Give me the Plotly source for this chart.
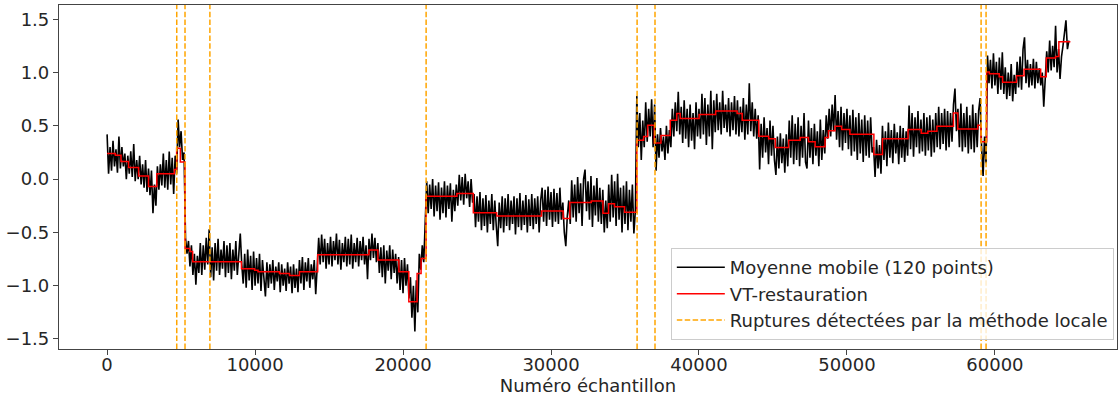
import plotly.graph_objects as go

# ---------------- data ----------------
black_step = 100
# Moyenne mobile (120 points): values read every 100 samples, per segment (start sample, values)
black_seg_a_start = 0
black_seg_a = [0.42, 0.05, 0.30, 0.08, 0.36, 0.12, 0.28, 0.06, 0.40, 0.10,
               0.30, 0.12, 0.24, 0.00, 0.22, 0.05, 0.26, 0.02, 0.33, -0.02,
               0.18, 0.00, 0.22, -0.05, 0.14, -0.08, 0.18, -0.12, 0.10, -0.15,
               0.08, -0.32, -0.05, -0.25, 0.12, -0.10, 0.14, -0.06, 0.24, -0.08,
               0.18, -0.10, 0.26, -0.05, 0.20, -0.14, 0.22, 0.05, 0.56, 0.30,
               0.45, 0.18, 0.25]
black_seg_b_start = 5300
black_seg_b = [-0.55, -0.70, -0.58, -0.82, -0.62, -0.90, -0.70, -0.99, -0.72, -0.88,
               -0.60, -0.90, -0.62, -0.85, -0.55, -0.80, -0.47, -0.92, -0.64, -0.95,
               -0.60, -0.86, -0.56, -0.90, -0.66, -0.84, -0.58, -0.92, -0.62, -0.88,
               -0.60, -0.94, -0.66, -0.86, -0.58, -0.90, -0.64, -0.51, -0.80, -0.98,
               -0.70, -1.02, -0.66, -0.95, -0.72, -1.04, -0.68, -1.00, -0.74, -0.98,
               -0.70, -1.05, -0.76, -0.96, -1.10, -0.78, -1.02, -0.80, -0.98, -0.76,
               -1.04, -0.82, -0.96, -0.78, -1.06, -0.80, -1.00, -0.84, -1.05, -0.78,
               -0.98, -0.82, -1.07, -0.80, -1.02, -0.84, -1.06, -0.76, -0.98, -0.73,
               -1.04, -0.78, -0.96, -0.74, -1.02, -0.80, -0.94, -0.76, -1.08, -0.82,
               -0.55, -0.80, -0.52, -0.78, -0.56, -0.84, -0.60, -0.80, -0.54, -0.82,
               -0.58, -0.76, -0.51, -0.80, -0.57, -0.85, -0.60, -0.78, -0.54, -0.82,
               -0.56, -0.80, -0.52, -0.84, -0.60, -0.78, -0.55, -0.82, -0.58, -0.76,
               -0.54, -0.80, -0.62, -0.94, -0.56, -0.76, -0.51, -0.74, -0.55, -0.78,
               -0.60, -0.88, -0.64, -0.92, -0.62, -0.98, -0.67, -0.86, -0.62, -0.94,
               -0.66, -0.88, -0.70, -0.98, -0.73, -1.04, -0.76, -1.07, -0.74, -1.00,
               -0.80, -1.12, -0.92, -1.30, -1.00, -1.43, -0.95, -1.25, -0.70, -0.85,
               -0.62, -0.78, -0.42]
black_seg_c_start = 21600
black_seg_c = [-0.02, -0.32, -0.05, -0.28, 0.00, -0.35, -0.06, -0.30, -0.03, -0.38,
               -0.08, -0.32, -0.02, -0.36, -0.06, -0.28, -0.04, -0.40, -0.10, -0.30,
               -0.05, -0.25, 0.04, -0.20, 0.02, -0.24, 0.05, -0.18, -0.02, -0.26,
               0.00, -0.22, -0.14, -0.45, -0.16, -0.40, -0.12, -0.48, -0.18, -0.44,
               -0.15, -0.50, -0.20, -0.42, -0.14, -0.48, -0.20, -0.44, -0.63, -0.22,
               -0.46, -0.16, -0.50, -0.18, -0.44, -0.14, -0.48, -0.20, -0.42, -0.16,
               -0.52, -0.18, -0.45, -0.13, -0.48, -0.20, -0.43, -0.15, -0.50, -0.19,
               -0.44, -0.14, -0.47, -0.18, -0.42, -0.16, -0.50, -0.20, -0.08, -0.40,
               -0.10, -0.44, -0.07, -0.38, -0.12, -0.45, -0.09, -0.40, -0.13, -0.42,
               -0.08, -0.38, -0.22, -0.50, -0.63, -0.35, -0.20, -0.42, -0.01, -0.36,
               -0.05, -0.40, 0.02, -0.32, -0.04, -0.44, 0.00, 0.09, -0.30, -0.02,
               -0.38, 0.03, -0.45, -0.06, -0.34, 0.01, -0.40, -0.08, -0.42, -0.10,
               -0.50, -0.20, -0.46, -0.05, -0.40, 0.04, -0.36, -0.02, -0.44, 0.05,
               -0.38, -0.08, -0.50, -0.06, -0.42, -0.02, -0.48, -0.10, -0.40, -0.05,
               -0.51, -0.30]
black_seg_d_start = 35800
black_seg_d = [0.78, 0.30, 0.62, 0.18, 0.55, 0.30, 0.72, 0.35, 0.66, 0.40,
               0.75, 0.30, 0.70, 0.08, 0.42, 0.20, 0.48, 0.26, 0.40, 0.18,
               0.50, 0.24, 0.46, 0.30, 0.66, 0.40, 0.72, 0.45, 0.82, 0.42,
               0.68, 0.34, 0.74, 0.38, 0.66, 0.30, 0.70, 0.36, 0.62, 0.28,
               0.72, 0.40, 0.66, 0.38, 0.80, 0.42, 0.76, 0.32, 0.70, 0.40,
               0.83, 0.28, 0.74, 0.44, 0.80, 0.46, 0.72, 0.42, 0.83, 0.48,
               0.70, 0.44, 0.76, 0.40, 0.72, 0.46, 0.78, 0.42, 0.74, 0.40,
               0.68, 0.44, 0.76, 0.37, 0.70, 0.42, 0.90, 0.45, 0.72, 0.40,
               0.66, 0.38, 0.60, 0.09, 0.52, 0.20, 0.58, 0.25, 0.48, 0.14,
               0.55, 0.22, 0.50, 0.18, 0.04, 0.40, 0.10, 0.43, 0.15, 0.38,
               0.06, 0.42, 0.12, 0.55, 0.20, 0.60, 0.14, 0.52, 0.18, 0.58,
               0.12, 0.50, 0.20, 0.62, 0.16, 0.10, 0.55, 0.20, 0.48, 0.14,
               0.52, 0.22, 0.45, 0.12, 0.56, 0.18, 0.46, 0.24, 0.60, 0.38,
               0.66, 0.40, 0.70, 0.45, 0.79, 0.37, 0.64, 0.30, 0.68, 0.27,
               0.62, 0.34, 0.66, 0.28, 0.60, 0.22, 0.65, 0.26, 0.58, 0.18,
               0.62, 0.24, 0.56, 0.16, 0.60, 0.22, 0.55, 0.20, 0.58, 0.25,
               0.30, 0.02, 0.37, 0.10, 0.32, 0.05, 0.50, 0.18, 0.45, 0.12,
               0.53, 0.20, 0.46, 0.15, 0.52, 0.24, 0.44, 0.14, 0.50, 0.20,
               0.48, 0.16, 0.45, 0.22, 0.69, 0.28, 0.62, 0.21, 0.58, 0.30,
               0.64, 0.24, 0.56, 0.26, 0.62, 0.22, 0.58, 0.27, 0.60, 0.21,
               0.56, 0.25, 0.62, 0.30, 0.68, 0.28, 0.62, 0.33, 0.66, 0.27,
               0.64, 0.30, 0.62, 0.35, 0.70, 0.85, 0.45, 0.66, 0.30, 0.71,
               0.26, 0.62, 0.30, 0.68, 0.24, 0.60, 0.28, 0.70, 0.25, 0.62,
               0.30, 0.64, 0.76, 0.30, 0.03, 0.40, 0.15]
black_seg_e_start = 59500
black_seg_e = [1.16, 0.90, 1.12, 0.85, 1.18, 0.88, 1.10, 0.80, 1.14, 0.84,
               1.19, 0.80, 1.05, 0.75, 1.00, 0.78, 1.08, 0.73, 0.98, 0.80,
               1.10, 0.86, 1.15, 0.84, 1.22, 1.33, 0.90, 1.12, 0.86, 1.08,
               0.88, 1.13, 0.85, 1.10, 0.90, 1.04, 0.88, 1.00, 0.68, 0.92,
               1.20, 1.00, 1.30, 1.02, 1.25, 1.05, 1.44, 1.00, 1.22, 0.94,
               1.15, 1.25, 1.38, 1.49, 1.22, 1.30]

# VT-restauration: piecewise-constant levels (segment start sample, level)
red_starts = [0, 560, 940, 1450, 2130, 2800, 3360, 4550, 4700, 4950,
              5266, 5600, 5780, 9080, 9970, 10200, 11650, 12330, 13000, 14230,
              17700, 18300, 19720, 20390, 20950, 21220, 21560, 23640, 24750, 26330,
              29360, 30820, 31270, 32720, 33510, 33890, 34290, 34970, 35800, 36260,
              36530, 36980, 37430, 38060, 38500, 38730, 40010, 41130, 42580, 42920,
              44040, 44710, 45160, 46060, 46840, 47400, 47850, 48520, 48750, 49190,
              49640, 50200, 51820, 52400, 54130, 55020, 55470, 56080, 57200, 57490,
              58840, 59060, 59440, 59620, 60290, 60520, 61460, 61970, 63090, 63470,
              64100, 64320]
red_levels = [0.24, 0.225, 0.165, 0.11, 0.03, -0.07, 0.05, 0.09, 0.29, 0.16,
              -0.65, -0.68, -0.775, -0.84, -0.855, -0.87, -0.885, -0.905, -0.87, -0.71,
              -0.665, -0.76, -0.87, -1.15, -0.885, -0.745, -0.16, -0.135, -0.315, -0.347,
              -0.30, -0.37, -0.22, -0.206, -0.32, -0.23, -0.26, -0.31, 0.366, 0.40,
              0.506, 0.34, 0.41, 0.553, 0.616, 0.57, 0.606, 0.64, 0.616, 0.553,
              0.403, 0.38, 0.297, 0.366, 0.39, 0.35, 0.303, 0.39, 0.453, 0.497,
              0.466, 0.42, 0.23, 0.38, 0.466, 0.43, 0.45, 0.497, 0.62, 0.47,
              0.506, 0.35, 1.006, 0.99, 0.96, 0.91, 0.97, 1.03, 0.96, 1.137,
              1.15, 1.29]
red_end = 65100

# Ruptures détectées par la méthode locale
ruptures = [4707, 5266, 6947, 21560, 35818, 37028, 59066, 59402]

x_ticks = [0, 10000, 20000, 30000, 40000, 50000, 60000]
y_ticks = [-1.5, -1.0, -0.5, 0.0, 0.5, 1.0, 1.5]
x_range = [-3250, 68250]
y_range = [-1.594, 1.634]

# ---------------- build ----------------
black_x, black_y = [], []
for start, vals in [(black_seg_a_start, black_seg_a), (black_seg_b_start, black_seg_b),
                    (black_seg_c_start, black_seg_c), (black_seg_d_start, black_seg_d),
                    (black_seg_e_start, black_seg_e)]:
    for i, v in enumerate(vals):
        black_x.append(start + i * black_step)
        black_y.append(v)

red_x = list(red_starts) + [red_end]
red_y = list(red_levels) + [red_levels[-1]]

FONT = "DejaVu Sans"
AX = "#444444"
TXT = "#262626"
DASH = "5.5px,2.4px"

fig = go.Figure()
fig.add_trace(go.Scatter(x=black_x, y=black_y, mode="lines",
                         line=dict(color="black", width=1.6),
                         name="Moyenne mobile (120 points)"))
fig.add_trace(go.Scatter(x=red_x, y=red_y, mode="lines",
                         line=dict(color="red", width=1.5, shape="hv"),
                         name="VT-restauration"))
fig.add_trace(go.Scatter(x=[None], y=[None], mode="lines",
                         line=dict(color="orange", width=1.5, dash=DASH),
                         name="Ruptures détectées par la méthode locale"))
for r in ruptures:
    fig.add_shape(type="line", x0=r, x1=r, y0=0, y1=1, xref="x", yref="paper",
                  line=dict(color="orange", width=1.5, dash=DASH), layer="above")

fig.update_layout(
    width=1120, height=398,
    margin=dict(l=59, r=3, t=5, b=49),
    paper_bgcolor="white", plot_bgcolor="white",
    font=dict(family=FONT, size=18, color=TXT),
    showlegend=True,
    legend=dict(x=0.997, xanchor="right", y=0.026, yanchor="bottom",
                bgcolor="rgba(255,255,255,0.8)", bordercolor="#cccccc", borderwidth=1,
                font=dict(family=FONT, size=18, color=TXT), tracegroupgap=0,
                itemwidth=48),
)
fig.update_xaxes(range=x_range, tickvals=x_ticks, ticktext=[str(v) for v in x_ticks],
                 showgrid=False, zeroline=False, showline=True, linecolor=AX, linewidth=1.2,
                 mirror=True, ticks="outside", ticklen=5, tickcolor=AX, tickwidth=1.2,
                 automargin=False, ticklabelstandoff=-6,
                 tickfont=dict(family=FONT, size=18, color=TXT),
                 title=dict(text="Numéro échantillon", font=dict(family=FONT, size=18, color=TXT),
                            standoff=4))
fig.update_yaxes(range=y_range, tickvals=y_ticks,
                 ticktext=[f"{v:.1f}".replace("-", "\u2212") for v in y_ticks],
                 showgrid=False, zeroline=False, showline=True, linecolor=AX, linewidth=1.2,
                 mirror=True, ticks="outside", ticklen=5, tickcolor=AX, tickwidth=1.2,
                 automargin=False,
                 tickfont=dict(family=FONT, size=18, color=TXT))

fig.write_html("out.html", config={"displayModeBar": False},
               post_script="document.body.style.margin='0';document.body.style.padding='0';")
